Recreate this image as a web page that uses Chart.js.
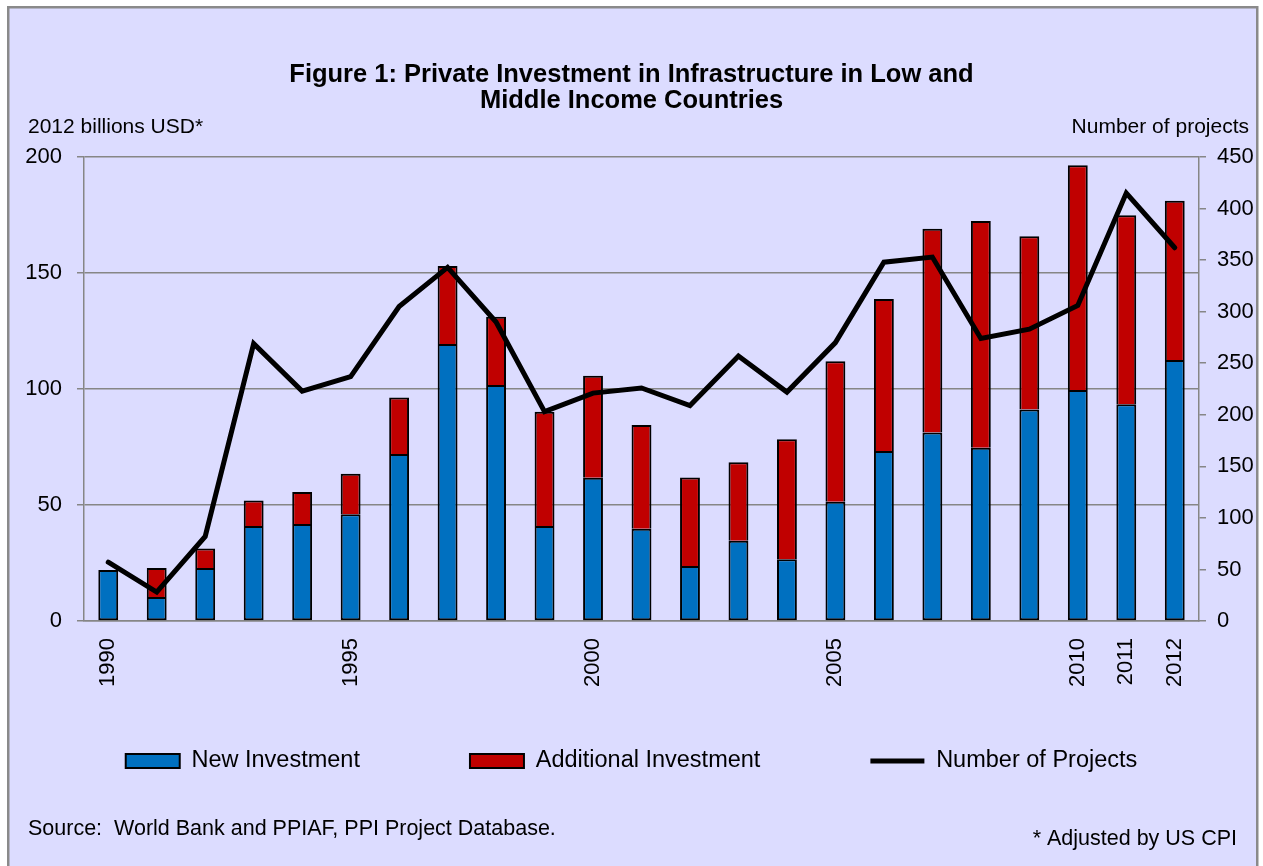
<!DOCTYPE html>
<html><head><meta charset="utf-8">
<script src="https://cdn.jsdelivr.net/npm/chart.js@4.4.1/dist/chart.umd.min.js"></script>
<style>html,body{margin:0;padding:0;background:#fff;overflow:hidden}canvas{display:block}</style>
</head><body>
<canvas id="c" width="1263" height="866"></canvas>
<script>
const years = ['1990','1991','1992','1993','1994','1995','1996','1997','1998','1999','2000','2001','2002','2003','2004','2005','2006','2007','2008','2009','2010','2011','2012'];
const shownYears = ['1990','1995','2000','2005','2010','2011','2012'];
const newInvestment = [22.0, 10.3, 22.8, 41.0, 41.8, 46.0, 72.0, 119.4, 101.7, 41.0, 61.8, 39.8, 23.7, 34.6, 26.6, 51.4, 73.3, 81.2, 74.7, 91.2, 99.6, 93.4, 112.5];
const additionalInvestment = [0, 12.5, 8.4, 10.9, 13.8, 17.5, 24.3, 33.6, 29.5, 49.2, 43.9, 44.7, 38.2, 33.8, 51.7, 60.6, 65.5, 87.9, 97.7, 74.6, 96.8, 81.5, 68.7];
const numberOfProjects = [57, 28, 82, 269, 223, 237, 305, 343, 290, 203, 221, 226, 209, 257, 222, 270, 348, 353, 274, 283, 306, 415, 362];
const leftTicks = [0, 50, 100, 150, 200];
const rightTicks = [0, 50, 100, 150, 200, 250, 300, 350, 400, 450];

const titleLines = ['Figure 1: Private Investment in Infrastructure in Low and', 'Middle Income Countries'];
const leftAxisTitle = '2012 billions USD*';
const rightAxisTitle = 'Number of projects';
const sourceNote = 'Source:  World Bank and PPIAF, PPI Project Database.';
const cpiNote = '* Adjusted by US CPI';

Chart.defaults.font.family = '"Liberation Sans", Arial, sans-serif';
Chart.defaults.color = '#000';

const GRID = '#868686';
const BG = '#DCDCFF';

const frame = {
  id: 'frame',
  afterLayout(chart) {
    // let the rotated year labels draw below the thin x-axis box
    const x = chart.scales.x;
    x.bottom = x.top + 100;
  },
  beforeDraw(chart) {
    const ctx = chart.ctx;
    ctx.save();
    ctx.fillStyle = '#fff';
    ctx.fillRect(0, 0, chart.width, chart.height);
    ctx.fillStyle = BG;
    ctx.fillRect(8, 7, 1250, 900);
    ctx.strokeStyle = '#8a8a8a';
    ctx.lineWidth = 2.5;
    ctx.strokeRect(8.25, 7.25, 1249, 900);
    ctx.restore();
  },
  afterDraw(chart) {
    const ctx = chart.ctx;
    ctx.save();
    ctx.fillStyle = '#000';
    ctx.textBaseline = 'middle';
    ctx.font = '21px "Liberation Sans", Arial, sans-serif';
    ctx.textAlign = 'left';
    ctx.fillText(leftAxisTitle, 28, 127);
    ctx.textAlign = 'right';
    ctx.fillText(rightAxisTitle, 1249, 127);
    ctx.font = '21.5px "Liberation Sans", Arial, sans-serif';
    ctx.textAlign = 'left';
    ctx.fillText(sourceNote, 28, 829);
    ctx.textAlign = 'right';
    ctx.fillText(cpiNote, 1237, 839);
    ctx.restore();
  }
};

new Chart(document.getElementById('c'), {
  type: 'bar',
  data: {
    labels: years,
    datasets: [
      {
        label: 'New Investment',
        data: newInvestment,
        backgroundColor: '#0070C0',
        borderColor: '#000',
        borderWidth: 2,
        borderSkipped: false,
        yAxisID: 'y',
        stack: 'inv',
        order: 1,
        barPercentage: 0.41,
        categoryPercentage: 1.0,
        pointStyle: 'rect'
      },
      {
        label: 'Additional Investment',
        data: additionalInvestment,
        backgroundColor: '#C00000',
        borderColor: '#000',
        borderWidth: 2,
        borderSkipped: 'start',
        yAxisID: 'y',
        stack: 'inv',
        order: 1,
        barPercentage: 0.41,
        categoryPercentage: 1.0,
        pointStyle: 'rect'
      },
      {
        type: 'line',
        label: 'Number of Projects',
        data: numberOfProjects,
        borderColor: '#000',
        backgroundColor: '#000',
        borderWidth: 5,
        borderCapStyle: 'round',
        pointRadius: 0,
        pointHoverRadius: 0,
        tension: 0,
        fill: false,
        yAxisID: 'y1',
        order: 0,
        pointStyle: 'line'
      }
    ]
  },
  options: {
    responsive: false,
    animation: false,
    events: [],
    layout: { padding: { left: 0, right: 0, top: 0, bottom: 83.25 } },
    plugins: {
      tooltip: { enabled: false },
      title: {
        display: true,
        text: titleLines,
        font: { size: 25.5, weight: 'bold', lineHeight: 1.02 },
        color: '#000',
        padding: { top: 62, bottom: 43 }
      },
      legend: {
        position: 'bottom',
        labels: {
          usePointStyle: true,
          pointStyleWidth: 54,
          boxHeight: 14,
          padding: 110,
          font: { size: 23.5 },
          color: '#000',
          sort: (a, b) => a.datasetIndex - b.datasetIndex
        }
      }
    },
    scales: {
      x: {
        stacked: true,
        grid: { display: false, drawTicks: false },
        border: { display: true, color: GRID, width: 1.5 },
        ticks: {
          autoSkip: false,
          minRotation: 90,
          maxRotation: 90,
          padding: 17,
          font: { size: 22 },
          color: '#000',
          callback: (v, i) => shownYears.includes(years[i]) ? years[i] : ''
        },
        afterFit: s => { s.height = 18.25; }
      },
      y: {
        position: 'left',
        stacked: true,
        min: leftTicks[0],
        max: leftTicks[leftTicks.length - 1],
        afterBuildTicks: s => { s.ticks = leftTicks.map(v => ({ value: v })); },
        grid: { color: GRID, lineWidth: 1.5, tickLength: 7 },
        border: { display: true, color: GRID, width: 1.5 },
        ticks: { font: { size: 22 }, color: '#000', padding: 15 },
        afterFit: s => { s.width = 84; }
      },
      y1: {
        position: 'right',
        min: rightTicks[0],
        max: rightTicks[rightTicks.length - 1],
        afterBuildTicks: s => { s.ticks = rightTicks.map(v => ({ value: v })); },
        grid: { drawOnChartArea: false, color: GRID, lineWidth: 1.5, tickLength: 7 },
        border: { display: true, color: GRID, width: 1.5 },
        ticks: { font: { size: 22 }, color: '#000', padding: 11 },
        afterFit: s => { s.width = 64; }
      }
    }
  },
  plugins: [frame]
});
</script>
</body></html>
